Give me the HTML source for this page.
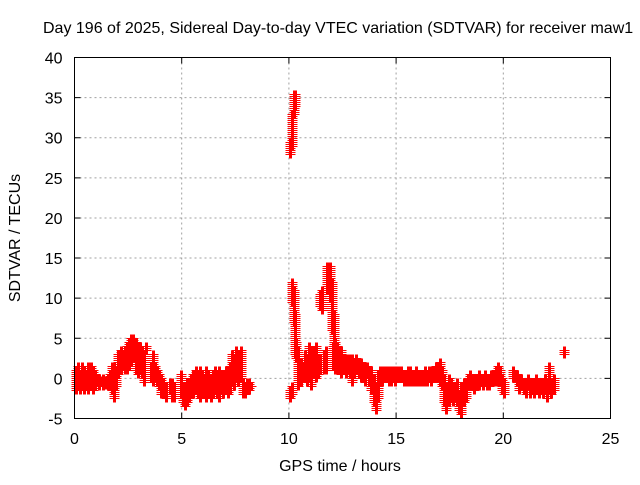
<!DOCTYPE html>
<html><head><meta charset="utf-8"><style>
html,body{margin:0;padding:0;background:#fff;}
svg text{font-family:"Liberation Sans",sans-serif;font-size:16px;fill:#000;}
</style></head><body>
<svg id="chart" width="640" height="480" viewBox="0 0 640 480" xmlns="http://www.w3.org/2000/svg">
<rect width="640" height="480" fill="#fff"/>
<text x="43" y="33">Day 196 of 2025, Sidereal Day-to-day VTEC variation (SDTVAR) for receiver maw1</text>
<g id="grid"></g>
<g id="axes"></g>
<path id="marks" fill="none" stroke="#ff0000" stroke-width="1"/>
<rect x="74.5" y="57.5" width="536" height="361" fill="none" stroke="#000" stroke-width="1"/>
<text x="340" y="471" text-anchor="middle">GPS time / hours</text>
<text transform="translate(20,238) rotate(-90)" text-anchor="middle">SDTVAR / TECUs</text>
</svg>
<script>
const xTicks=[0,5,10,15,20,25];
const yTicks=[-5,0,5,10,15,20,25,30,35,40];
const hours=[0,0.1,0.2,0.3,0.4,0.5,0.6,0.7,0.8,0.9,1.0,1.1,1.2,1.3,1.4,1.5,1.6,1.7,1.8,1.9,2.0,2.1,2.2,2.3,2.4,2.5,2.6,2.7,2.8,2.9,3.0,3.1,3.2,3.3,3.5,3.6,3.7,3.8,3.9,4.0,4.1,4.2,4.4,4.5,4.6,4.9,5.0,5.1,5.2,5.3,5.4,5.5,5.6,5.7,5.8,5.9,6.0,6.1,6.2,6.3,6.4,6.5,6.6,6.7,6.8,6.9,7.0,7.1,7.2,7.3,7.4,7.5,7.6,7.7,7.8,7.9,8.0,8.1,8.2,
10.0,10.1,10.2,10.25,10.0,10.1,10.1,10.2,10.25,10.3,10.4,10.5,10.6,10.7,10.8,10.9,11.0,11.1,11.2,11.3,11.4,11.4,11.5,11.6,11.7,11.75,11.85,11.95,12.0,12.05,12.1,12.2,12.3,12.4,12.5,12.6,12.7,12.8,12.9,13.0,13.1,13.2,13.3,13.4,13.5,13.6,13.7,13.8,13.9,14.0,14.1,14.2,14.3,14.4,14.5,14.6,14.7,14.8,14.9,15.0,15.1,15.2,15.3,15.4,15.5,15.6,15.7,15.8,15.9,16.0,16.1,16.2,16.3,16.4,16.5,16.6,16.7,16.8,16.9,17.0,17.1,17.2,17.3,17.4,17.5,17.6,17.7,17.8,17.9,18.0,18.1,18.2,18.3,18.4,18.5,18.6,18.7,18.8,18.9,19.0,19.1,19.2,19.3,19.4,19.5,19.6,19.7,19.8,19.9,20.0,20.4,20.5,20.6,20.7,20.8,20.9,21.0,21.1,21.2,21.3,21.4,21.5,21.6,21.7,21.8,21.9,22.0,22.1,22.2,22.3,22.8];
const lows=[-1.5,-1,-1.5,-1,-1.5,-1,-1.5,-1,-1.5,-1,-0.5,-1,-0.5,-1,-0.8,-1,-1,-1.5,-2.5,-1,0.5,1,1.5,1,1,1.5,2,2.5,1,0.5,1,0.5,-0.5,3.5,0,-0.5,0,-0.5,-1,-2,-2,-2.5,-1.5,-2.5,-2.5,-2,-3,-3.5,-3,-2.5,-2,-2,-1.5,-2,-2.5,-2,-2,-2.5,-2,-2.5,-2,-1.5,-2,-2.5,-1.5,-2,-1.5,-2,-1.5,-0.5,-1,0,-0.5,0,-2,-2,-1.5,-1.5,-1,
28,29,33,34,-2.5,-2,9.5,7,3,2.5,-1,-0.5,0,0,-0.5,0,-1,0.5,0,0.5,1,9,8.5,1,1,11,10,6,1.5,3,1,1,1,0.5,1,0.5,1,0.5,-0.5,0.5,1,0.5,0,0,-0.5,0.5,-0.5,-1.5,-3,-4,-2.5,-0.5,-0.5,0,0,-0.5,-0.5,0,-0.5,0,0,0,-0.5,-0.5,-0.5,-0.5,-0.5,-0.5,-0.5,-0.5,-0.5,-0.5,-0.5,-0.5,0,-0.5,0,0,0,-0.5,-1,-3,-4,-3,-2.5,-3,-2.5,-3,-4,-4.5,-3,-2.5,-1,-1,-1,-1.5,-1,-1,-0.5,-1,-0.5,-1,-1,-0.5,-0.5,-0.5,-0.5,-0.5,-1.5,-2,0,0,-0.5,-1.5,-1,-1.5,-2,-1,-2,-1.5,-2,-1.5,-2,-1.5,-2,-1.5,-2.5,-1.5,-2,-1.5,3];
const highs=[1,1.5,0.5,1.5,1,0.5,1.5,1.5,1,0.5,0,0,-0.2,0,-0.2,0,0.5,1.5,1.5,1,3,3.5,3,3.5,4,4.5,5,5,4.5,4,4,3.5,3,4,1.5,3,1.5,1,0.5,0,-0.5,-1,-0.5,-0.5,-1,0.5,-1,-1,-0.5,-0.5,0,0.5,1,0.5,1,0.5,0,1,0.5,0,0.5,1,0.5,1,0.5,0.5,1,1,1.5,3,2.5,3.5,3,3.5,-0.5,-1,-0.5,-0.5,-1,
29.5,33,35.5,35.5,-1.5,-1,12,11,8,4.5,3.5,2,1.5,3,2.5,4,3.5,3.5,4,2.5,2.5,10.5,11,3,3.5,14,14,12,4,8,4.5,4,3.5,3.5,2.5,2.5,2.5,2.5,2.5,2,2.5,2,2,1.5,1.5,1.5,1,1,0,-1,0.5,1,1,1,1,1,1,1,1,1,1,1,0.5,0.5,1,1,0.5,0.5,1,0.5,0.5,0.5,1,0.5,1,1,1,1.5,1.5,2,1,0,-1,0,-0.5,-1,-1,-0.5,-2,-1,-0.5,-0.5,0,0.5,0,0,0,0.5,0,0,0.5,0,0,0.5,0.5,1,1.5,1,0,-0.5,1,0.5,0.5,0,0,-0.5,-0.5,0,-0.5,-0.5,-0.5,0,-0.5,-0.5,-0.5,0,-0.5,1.5,-0.5,0,3.5];

const X0=74.5,X1=610.5,Y0=418.5,Y1=57.5;
const xScale=h=>X0+(h-0)/(25-0)*(X1-X0);
const yScale=v=>Y0-(v+5)/(40+5)*(Y0-Y1);
const NS='http://www.w3.org/2000/svg';
const grid=document.getElementById('grid'), axes=document.getElementById('axes');
xTicks.forEach(t=>{
  const x=xScale(t);
  if(t>0&&t<25){
    const l=document.createElementNS(NS,'line');
    
    
    l.setAttribute('x1',x);l.setAttribute('x2',x);l.setAttribute('y1',Y1);l.setAttribute('y2',Y0);
    l.setAttribute('stroke','#a0a0a0');l.setAttribute('stroke-dasharray','2,3');
    grid.appendChild(l);
  }
  const tk=document.createElementNS(NS,'path');
  
  
  tk.setAttribute('d',`M${x},${Y0}v-6M${x},${Y1}v6`);tk.setAttribute('stroke','#000');
  axes.appendChild(tk);
  const tx=document.createElementNS(NS,'text');
  
  
  tx.setAttribute('x',x);tx.setAttribute('y',444);tx.setAttribute('text-anchor','middle');
  tx.textContent=t;axes.appendChild(tx);
});
yTicks.forEach(t=>{
  const y=yScale(t);
  if(t>-5&&t<40){
    const l=document.createElementNS(NS,'line');
    
    
    l.setAttribute('x1',X0);l.setAttribute('x2',X1);l.setAttribute('y1',y);l.setAttribute('y2',y);
    l.setAttribute('stroke','#a0a0a0');l.setAttribute('stroke-dasharray','2,3');
    grid.appendChild(l);
  }
  const tk=document.createElementNS(NS,'path');
  
  
  tk.setAttribute('d',`M${X0},${y}h6M${X1},${y}h-6`);tk.setAttribute('stroke','#000');
  axes.appendChild(tk);
  const tx=document.createElementNS(NS,'text');
  
  
  tx.setAttribute('x',X0-12);tx.setAttribute('y',y+6);tx.setAttribute('text-anchor','end');
  tx.textContent=t;axes.appendChild(tx);
});
let d='';
for(let i=0;i<hours.length;i++){
  const x=Math.round(xScale(hours[i]))+0.5;
  const lo=lows[i],hi=highs[i];
  const n=Math.max(1,Math.ceil((hi-lo)/0.25));
  for(let k=0;k<=n;k++){
    const v=lo+(hi-lo)*k/n;
    const y=Math.round(yScale(v))+0.5;
    d+=`M${x-4},${y}h8M${x},${y-4}v8`;
    d+=`M${x-3},${y}h8M${x+1},${y-4}v8`;
    d+=`M${x-2},${y}h8M${x+2},${y-4}v8`;
  }
}
document.getElementById('marks').setAttribute('d',d);
</script>
</body></html>
